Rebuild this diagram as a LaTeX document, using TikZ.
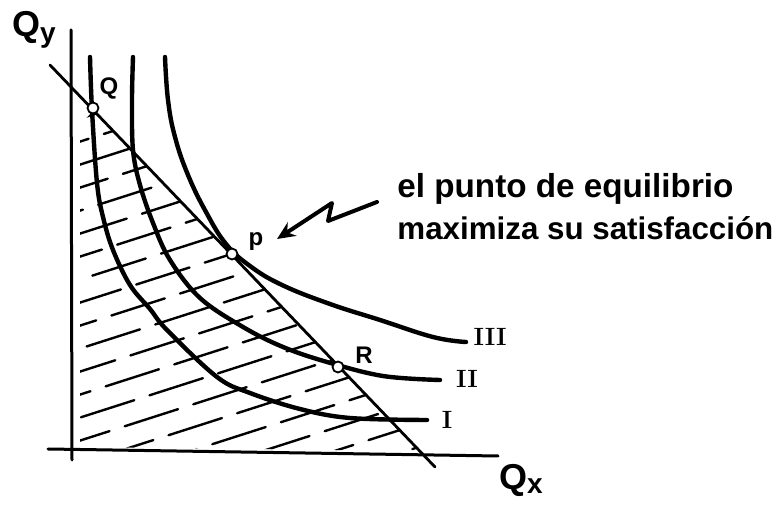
\documentclass[tikz,border=0pt]{standalone}
\usepackage{fontspec}
\newfontfamily\hand{Liberation Sans}
\usetikzlibrary{arrows.meta}
\begin{document}
\begin{tikzpicture}[x=0.5pt,y=-0.5pt, line cap=round, line join=round,
  axis/.style={line width=1.5pt},
  budget/.style={line width=1.4pt},
  icurve/.style={line width=2.2pt},
  hatchline/.style={line width=1.2pt},
  ptmark/.style={circle,draw,line width=0.9pt,inner sep=0pt,minimum size=5.5pt,fill=white},
  axlbl/.style={font=\hand\bfseries\fontsize{18}{18}\selectfont, inner sep=0pt},
  ptlbl/.style={font=\hand\bfseries\fontsize{12}{12}\selectfont, inner sep=0pt},
  roman/.style={font=\bfseries\fontsize{12.5}{12.5}\selectfont, inner sep=0pt},
  note/.style={font=\hand\bfseries, inner sep=0pt, anchor=base west}]
\useasboundingbox (0,0) rectangle (780,506);
% hatching
\begin{scope}
  \clip (80,125) -- (93,111) -- (420,451) -- (80,447) -- cycle;
  \foreach \k [evaluate=\k as \ph using {mod(\k*13,36)}] in {0,...,19}
    \draw[hatchline, dash pattern=on 28pt off 8pt, dash phase=\ph pt]
      (60,{125+23*\k}) -- (450,{125+23*\k-125});
\end{scope}
% axes
\draw[axis] (71,30) -- (72,460);
\draw[axis] (48,449) -- (498,456);
\node[axlbl] (qy) at (34,30) {Q\raisebox{-0.3ex}{\fontsize{14}{14}\selectfont y}};
\node[axlbl] (qx) at (521,480) {Q\raisebox{-0.25ex}{\fontsize{14}{14}\selectfont x}};
% indifference curves
\draw[icurve] plot[smooth, tension=0.6] coordinates {(90,57) (92,110) (97,183) (103,217) (113,250) (130,285) (150,309) (167,330) (217,377) (250,393) (300,409) (350,418) (427,420)};
\draw[icurve] plot[smooth, tension=0.6] coordinates {(133,57) (132,100) (133,150) (140,185) (153,223) (170,260) (200,298) (243,327) (283,347) (327,362) (383,376) (440,380)};
\draw[icurve] plot[smooth, tension=0.7] coordinates {(165,57) (168,100) (175,137) (188,175) (206,212) (226,244) (250,266) (282,285) (330,304) (380,320) (433,337) (466,342)};
% budget line
\coordinate (b1) at (50,65);
\coordinate (b2) at (435,467);
\draw[budget] (b1) -- (b2);
% points
\node[ptmark] (Q) at (93,108) {};
\node[ptmark] (P) at (232,254) {};
\node[ptmark] (R) at (338,367) {};
\node[ptlbl] (Ql) at (109,88) {Q};
\node[ptlbl] (Pl) at (256,242) {p};
\node[ptlbl] (Rl) at (364,355) {R};
\node[roman] (III) at (490,337) {III};
\node[roman] (II) at (467,379) {II};
\node[roman] (I) at (447,420) {I};
% annotation
\node[note] (n1) at (397,198) {\resizebox{168pt}{!}{el punto de equilibrio}};
\node[note] (n2) at (397,240) {\resizebox{188pt}{!}{maximiza su satisfacción}};
\coordinate (as) at (377,202);
\coordinate (ae) at (277,239);
\draw[line width=2pt, -{Stealth[length=9pt,width=8pt]}] (as) -- (328,221) -- (332,203) -- (ae);
\end{tikzpicture}
\end{document}
